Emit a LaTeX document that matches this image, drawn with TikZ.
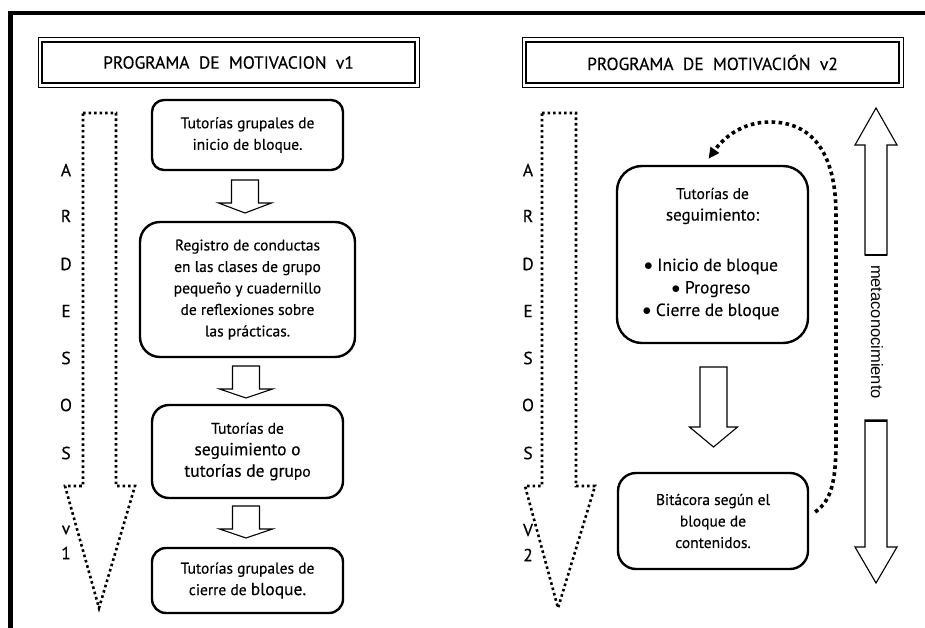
\documentclass[tikz,border=0pt]{standalone}
\usepackage{fontspec}
\setmainfont{PT Sans}[FakeBold=0.35]
\newfontfamily\metafont{Liberation Sans}
\usetikzlibrary{arrows.meta,calc}

\tikzset{
  frameline/.style={line width=4.5pt},
  titlebox/.style={draw, line width=0.9pt, minimum width=381pt, minimum height=50pt,
    font=\fontsize{17.5}{20}\selectfont},
  stepbox/.style={draw, line width=2.4pt, align=center,
    font=\fontsize{15.5}{21.5}\selectfont},
  blockarrow/.style={draw, line width=1.1pt, fill=white, line join=miter},
  dotarrow/.style={draw, line width=2.6pt, dash pattern=on 2.6pt off 2.9pt},
  loopline/.style={line width=3.6pt, dash pattern=on 3.6pt off 3.4pt,
    -{Triangle[length=11pt,width=10pt]}},
  sidelabel/.style={font=\fontsize{17.5}{20}\selectfont, inner sep=0pt},
}

% downward block arrow: centre x, top y, wing y, tip y, half shaft, half wing
\newcommand{\blockdown}[6]{%
  \draw[blockarrow] ({#1-#5},#2) -- ({#1+#5},#2) -- ({#1+#5},#3) -- ({#1+#6},#3)
    -- (#1,#4) -- ({#1-#6},#3) -- ({#1-#5},#3) -- cycle;}

\begin{document}
\begin{tikzpicture}[x=1pt, y=-1pt]
\useasboundingbox (0,0) rectangle (925,628);

% outer frame
\draw[frameline] (925,13) -- (10.5,13) -- (10.5,628);

% ---------- version 1 ----------
\node[titlebox] (t1) at (228.5,62.5) {PROGRAMA\ \ DE\ \ MOTIVACION\ \ v1};
\draw[line width=2pt] ($(t1.north west)+(4.5,4.5)$) rectangle ($(t1.south east)+(-4.5,-4.5)$);

% dotted timeline arrow
\draw[dotarrow] (83,113) -- (116,113) -- (116,486) -- (135,486) -- (99,608)
  -- (65,486) -- (83,486) -- cycle;
\foreach \ch/\yy [count=\i] in {A/170,R/216,D/264,E/311,S/358,O/405,S/453,v/530,1/553}
  \node[sidelabel] (l1\i) at (66,\yy) {\ch};

\node[stepbox, minimum width=191pt, minimum height=70pt, rounded corners=12pt]
  (b1) at (247.5,135) {Tutorías grupales de\\inicio de bloque.};
\node[stepbox, minimum width=215pt, minimum height=135pt, rounded corners=20pt]
  (b2) at (247.5,289.5) {Registro de conductas\\en las clases de grupo\\pequeño y cuadernillo\\de reflexiones sobre\\las prácticas.};
\node[stepbox, minimum width=191pt, minimum height=93pt, rounded corners=17pt]
  (b3) at (247.5,451.5) {Tutorías de\\{\fontsize{17.5}{21.5}\selectfont seguimiento o}\\{\fontsize{17.5}{21.5}\selectfont tutorías de gru}po};
\node[stepbox, minimum width=191pt, minimum height=65pt, rounded corners=14pt]
  (b4) at (247.5,580.5) {Tutorías grupales de\\cierre de {\fontsize{17.5}{21.5}\selectfont bloque.}};

\blockdown{245}{180}{203}{213}{13.5}{26.5}
\blockdown{246}{366}{389}{398}{13.5}{26.5}
\blockdown{246}{506}{529}{538}{13.5}{26.5}

% ---------- version 2 ----------
\node[titlebox] (t2) at (712.5,62.5) {PROGRAMA\ \ DE\ \ MOTIVACIÓN\ \ v2};
\draw[line width=2pt] ($(t2.north west)+(4.5,4.5)$) rectangle ($(t2.south east)+(-4.5,-4.5)$);

\draw[dotarrow] (542,113) -- (576,113) -- (576,486) -- (595,486) -- (558,608)
  -- (525,486) -- (542,486) -- cycle;
\foreach \ch/\yy [count=\i] in {A/170,R/216,D/264,E/311,S/358,O/405,S/453,V/530,2/555}
  \node[sidelabel] (l2\i) at (528,\yy) {\ch};

\node[stepbox, minimum width=191pt, minimum height=177pt, rounded corners=25pt]
  (tA) at (712.5,254.5) {};
\node[font=\fontsize{15.5}{21.5}\selectfont, align=center] (tAh) at (712.5,206)
  {Tutorías de\\{\fontsize{17}{21.5}\selectfont seguimiento:}};
\node[font=\fontsize{17.5}{22.5}\selectfont, align=center] (tAl) at (711,289)
  {$\bullet$ Inicio de bloque\\$\bullet$ Progreso\\$\bullet$ Cierre de bloque};

\blockdown{713.5}{367}{427}{447}{13.5}{24}

\node[stepbox, minimum width=190pt, minimum height=96pt, rounded corners=18pt]
  (bB) at (713,521) {Bitácora según el\\bloque de\\contenidos.};

\coordinate (loopEnd) at ($(tA.north)+(-4,-6)$);
\draw[loopline] ($(bB.east)+(6,-9)$) .. controls (832,500) and (836,480) .. (836,440)
  -- (836,215) .. controls (836,150) and (810,122) .. (770,122)
  .. controls (740,122) and (722,140) .. (loopEnd);

% metacognition double arrow
\draw[blockarrow] (865,255) -- (865,145) -- (855,145) -- (876,108) -- (897,145)
  -- (887,145) -- (887,255) -- cycle;
\draw[line width=2pt] (865,255) -- (887,255);
\draw[blockarrow] (865,420) -- (887,420) -- (887,547) -- (897,547) -- (876,583)
  -- (855,547) -- (865,547) -- cycle;
\draw[line width=2.2pt] (865,421) -- (887,421);
\node[rotate=-90, font=\metafont\fontsize{16.5}{18}\selectfont, inner sep=0pt] (meta) at (877,332) {metaconocimiento};
\end{tikzpicture}
\end{document}
